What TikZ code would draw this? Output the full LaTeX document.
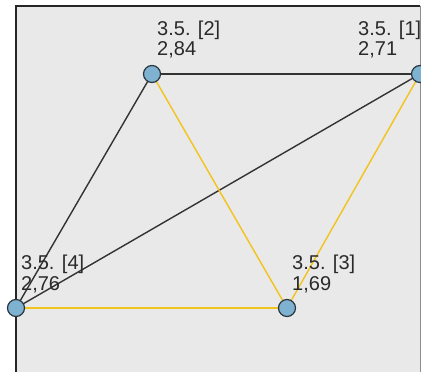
\documentclass[tikz,border=0pt]{standalone}
\usepackage{fontspec}
\setmainfont{Liberation Sans}
\definecolor{bgpanel}{HTML}{E9E9E9}
\definecolor{nodefill}{HTML}{7FB2D0}
\definecolor{nodeline}{HTML}{2B3740}
\definecolor{edgeyellow}{HTML}{F2C31C}
\definecolor{edgedark}{HTML}{333333}
\definecolor{labeltext}{HTML}{2A2A2A}
\begin{document}
\begin{tikzpicture}[x=1pt,y=-1pt,
  vertex/.style={circle,draw=nodeline,fill=nodefill,line width=1.2pt,minimum size=17pt,inner sep=0pt},
  darkedge/.style={draw=edgedark,line width=1.4pt},
  yellowedge/.style={draw=edgeyellow,line width=1.4pt},
  lbl/.style={anchor=base west,inner sep=0pt,text=labeltext,font=\fontsize{20}{21}\selectfont}]
\useasboundingbox (0,0) rectangle (421,372);
\begin{scope}
\clip (0,0) rectangle (421,372);
\fill[white] (0,0) rectangle (421,372);
\fill[bgpanel] (16,6) rectangle (420,390);
\draw[draw=black!45,line width=1pt] (420,6) -- (420,390);
\draw[draw=black!85,line width=2pt] (16,390) -- (16,6) -- (420,6);
\coordinate (p1) at (420,74);
\coordinate (p2) at (152,74);
\coordinate (p3) at (287,308);
\coordinate (p4) at (16,308);
\draw[darkedge] (p2) -- (p1);
\draw[darkedge] (p2) -- (p4);
\draw[darkedge] (p1) -- (p4);
\draw[yellowedge] (p2) -- (p3);
\draw[yellowedge] (p1) -- (p3);
\draw[yellowedge] (p4) -- (p3);
\node[vertex] (n1) at (p1) {};
\node[vertex] (n2) at (p2) {};
\node[vertex] (n3) at (p3) {};
\node[vertex] (n4) at (p4) {};
\node[lbl] (l1a) at (358,35) {3.5. [1]};
\node[lbl] (l1b) at (358,56) {2,71};
\node[lbl] (l2a) at (157,35) {3.5. [2]};
\node[lbl] (l2b) at (157,56) {2,84};
\node[lbl] (l3a) at (292,269) {3.5. [3]};
\node[lbl] (l3b) at (292,290) {1,69};
\node[lbl] (l4a) at (21,269) {3.5. [4]};
\node[lbl] (l4b) at (21,290) {2,76};
\end{scope}
\end{tikzpicture}
\end{document}
